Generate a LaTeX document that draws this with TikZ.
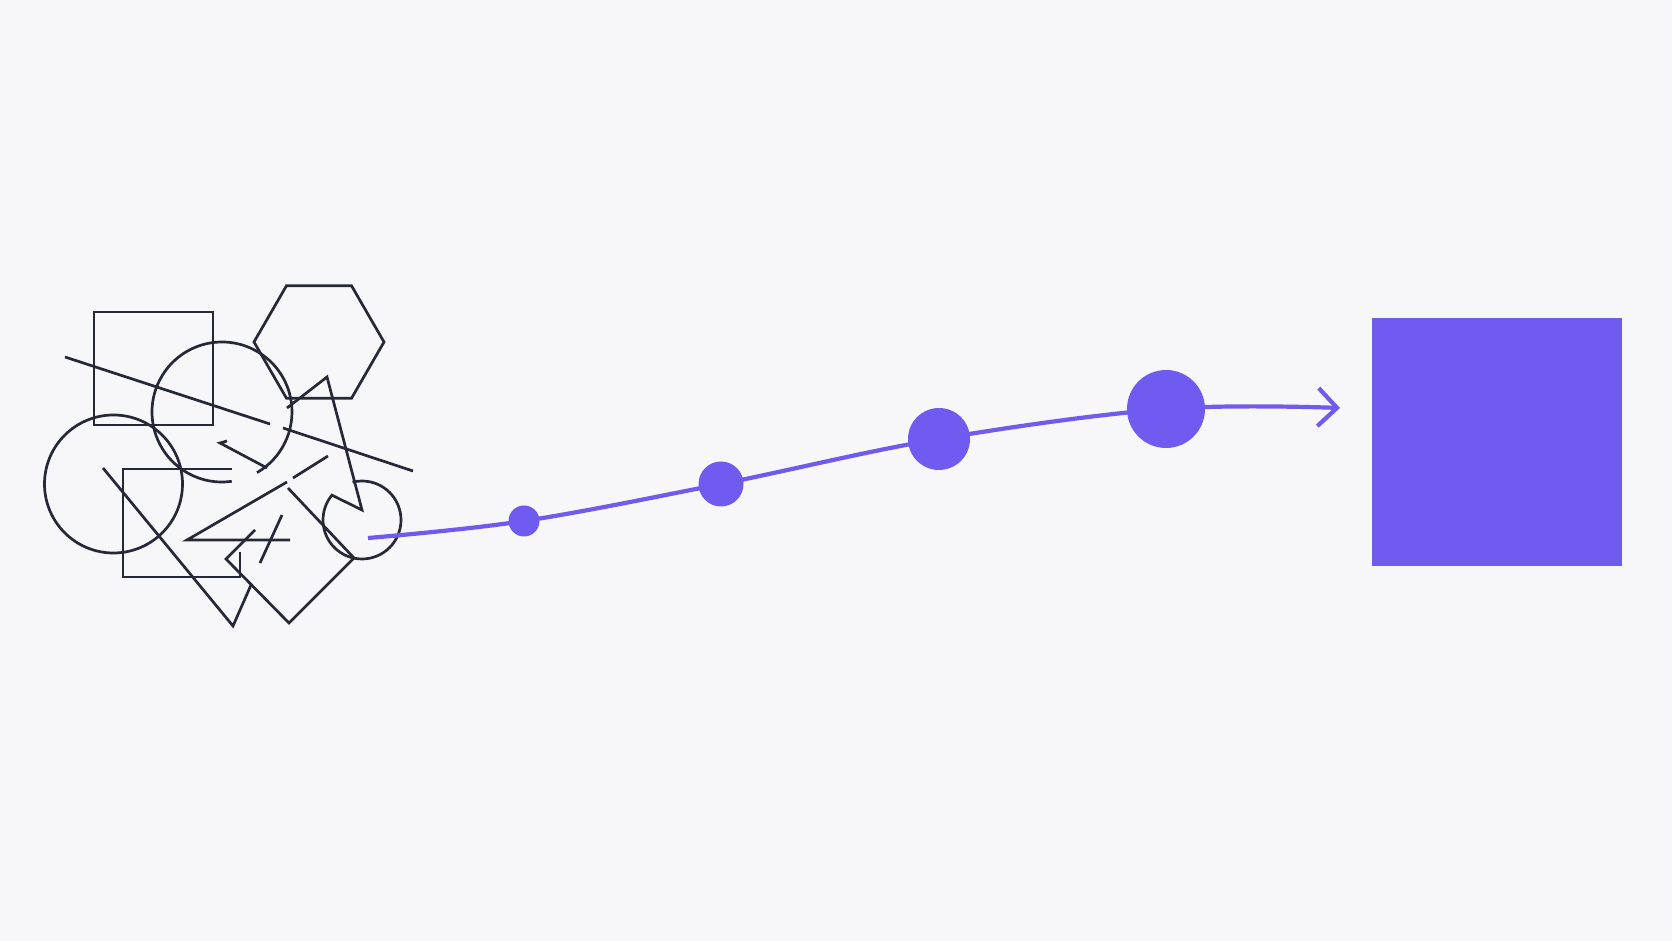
\documentclass[tikz,border=0pt]{standalone}
\usetikzlibrary{arrows.meta}
\definecolor{paper}{RGB}{247,247,249}
\definecolor{ink}{RGB}{38,40,56}
\definecolor{flowpurple}{RGB}{111,91,240}
\tikzset{
  sketch/.style={draw=ink, line width=0.27mm},
  waydot/.style={circle, fill=flowpurple, inner sep=0pt},
  goalbox/.style={rectangle, fill=flowpurple, inner sep=0pt, minimum width=25mm, minimum height=24.8mm},
  flow/.style={draw=flowpurple, line width=0.42mm, -{Straight Barb[length=1.9mm,width=3.8mm]}}
}
\begin{document}
\begin{tikzpicture}[x=0.1mm,y=-0.1mm]
  %%%%% START %%%%%
  \useasboundingbox (0,0) rectangle (1672,941);
  \fill[paper] (0,0) rectangle (1672,941);

  % tangle of outlines
  \draw[sketch] (94,312) rectangle (213,425);
  \draw[sketch] (319,342) +(0:65) -- +(60:65) -- +(120:65) -- +(180:65) -- +(240:65) -- +(300:65) -- cycle;
  \draw[sketch] ([shift={(82:70)}]222,412) arc (82:420:70);
  \draw[sketch] (113.5,484) circle (69);
  \draw[sketch] (240,552) -- (240,577) -- (123,577) -- (123,469) -- (232,469);
  \draw[sketch] (65,357) -- (270,424);
  \draw[sketch] (283,428) -- (413,471);
  \draw[sketch] (287,408) -- (327,377) -- (362,510) -- ([shift={(219.5:39)}]362,520) arc (219.5:-104:39);
  \draw[sketch] (227,441) -- (220,443) -- (267,468);
  \draw[sketch] (328,456) -- (293,478);
  \draw[sketch] (287,482) -- (187,540) -- (290,540);
  \draw[sketch] (255,530) -- (226,559) -- (289,623) -- (354,558) -- (288,488);
  \draw[sketch] (103,468) -- (233,626) -- (251,585);
  \draw[sketch] (260,563) -- (282,515);

  % the path that tidies it up
  \coordinate (p0) at (368,538);
  \coordinate (p1) at (524,521);
  \coordinate (p2) at (721,484);
  \coordinate (p3) at (939,439);
  \coordinate (p4) at (1166,409);
  \coordinate (tip) at (1340,408);
  \draw[flow] plot[smooth, tension=0.6] coordinates {(p0) (p1) (p2) (p3) (p4) (tip)};

  \node[waydot, minimum size=3.1mm] (d1) at (p1) {};
  \node[waydot, minimum size=4.5mm] (d2) at (p2) {};
  \node[waydot, minimum size=6.2mm] (d3) at (p3) {};
  \node[waydot, minimum size=7.8mm] (d4) at (p4) {};

  \node[goalbox] (goal) at (1497,442) {};
  %%%%% END %%%%%
\end{tikzpicture}
\end{document}
